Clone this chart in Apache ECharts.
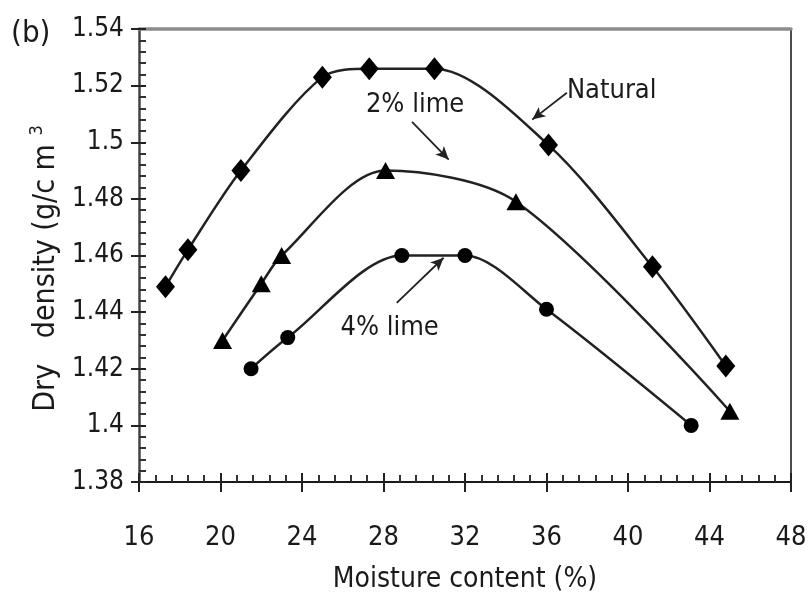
<!DOCTYPE html>
<html>
<head>
<meta charset="utf-8">
<script src="https://cdn.jsdelivr.net/npm/echarts@6/dist/echarts.min.js"></script>
<style>
  html, body { margin: 0; padding: 0; background: #fff; }
  #chart { width: 812px; height: 601px; }
</style>
</head>
<body>
<div id="chart"></div>
<script>
// Compaction curves: dry density vs. moisture content
const xTicks = ['16', '20', '24', '28', '32', '36', '40', '44', '48'];
const yTicks = ['1.38', '1.4', '1.42', '1.44', '1.46', '1.48', '1.5', '1.52', '1.54'];

const moistureNatural = [17.3, 18.4, 21.0, 25.0, 27.3, 30.5, 36.1, 41.2, 44.8];
const densityNatural  = [1.449, 1.462, 1.490, 1.523, 1.526, 1.526, 1.499, 1.456, 1.421];

const moistureLime2 = [20.1, 22.0, 23.0, 28.1, 34.5, 45.0];
const densityLime2  = [1.430, 1.450, 1.460, 1.490, 1.479, 1.405];

const moistureLime4 = [21.5, 23.3, 28.9, 32.0, 36.0, 43.1];
const densityLime4  = [1.420, 1.431, 1.460, 1.460, 1.441, 1.400];

// Callout labels: text anchor and arrow (start -> tip), in data units
const calloutNames = ['Natural', '2% lime', '4% lime'];
const calloutText  = [[39.2, 1.518], [29.55, 1.513], [28.3, 1.4345]];
const calloutFrom  = [[37.0, 1.5175], [29.4, 1.5072], [28.65, 1.4433]];
const calloutTo    = [[35.3, 1.508], [31.2, 1.4939], [30.95, 1.4592]];

const NARROW = '"Liberation Sans Narrow", "DejaVu Sans Condensed", sans-serif';
const INK = '#1a1a1a';

const pairs = (xs, ys) => xs.map((x, i) => [x, ys[i]]);

function curve(name, xs, ys, symbol, size, idx) {
  return {
    name: name,
    type: 'line',
    smooth: 0.3,
    data: pairs(xs, ys),
    symbol: symbol,
    symbolSize: size,
    showSymbol: true,
    itemStyle: { color: '#000' },
    lineStyle: { color: '#222', width: 2.5 },
    z: 3,
    markLine: {
      silent: true,
      symbol: ['none', 'arrow'],
      symbolSize: [9, 13],
      label: { show: false },
      lineStyle: { color: '#222', width: 1.8, type: 'solid' },
      data: [[{ coord: calloutFrom[idx] }, { coord: calloutTo[idx] }]]
    },
    markPoint: {
      silent: true,
      symbol: 'rect',
      symbolSize: 1,
      itemStyle: { color: 'rgba(0,0,0,0)' },
      label: {
        show: true, position: 'inside', color: INK,
        fontFamily: NARROW, fontSize: 27,
        formatter: () => calloutNames[idx]
      },
      data: [{ coord: calloutText[idx] }]
    }
  };
}

const tickFmtX = v => xTicks.find(t => Math.abs(+t - v) < 1e-6) || '';
const tickFmtY = v => yTicks.find(t => Math.abs(+t - v) < 1e-6) || '';

const chart = echarts.init(document.getElementById('chart'));
chart.setOption({
  animation: false,
  backgroundColor: '#fff',
  grid: { left: 139, right: 21, top: 29, bottom: 119 },
  graphic: [{
    type: 'text', left: 11, top: 18,
    style: { text: '(b)', font: '31px ' + NARROW, fill: INK }
  }],
  xAxis: [{
    type: 'value', position: 'bottom', min: 16, max: 48, interval: 4,
    axisLine: { lineStyle: { color: '#1a1a1a', width: 2 } },
    axisTick: { inside: true, length: 9, lineStyle: { color: '#222', width: 2 } },
    minorTick: { show: true, splitNumber: 5, length: 7, lineStyle: { color: '#333', width: 2 } },
    splitLine: { show: false },
    axisLabel: { margin: 42, fontSize: 27, fontFamily: NARROW, color: INK, formatter: tickFmtX },
    name: 'Moisture content (%)', nameLocation: 'middle', nameGap: 84,
    nameTextStyle: { fontSize: 28, fontFamily: NARROW, color: INK }
  }, {
    type: 'value', position: 'bottom', min: 16, max: 48, interval: 4,
    axisLine: { show: false },
    axisTick: { inside: false, length: 10, lineStyle: { color: '#222', width: 2 } },
    axisLabel: { show: false }, splitLine: { show: false }
  }, {
    type: 'value', position: 'top', min: 16, max: 48, interval: 4,
    axisLine: { lineStyle: { color: '#8c8c8c', width: 3.5 } },
    axisTick: { show: false }, axisLabel: { show: false }, splitLine: { show: false }
  }],
  yAxis: [{
    type: 'value', position: 'left', min: 1.38, max: 1.54, interval: 0.02,
    axisLine: { lineStyle: { color: '#444', width: 2.5 } },
    axisTick: { inside: true, length: 7, lineStyle: { color: '#222', width: 2 } },
    minorTick: { show: true, splitNumber: 5, length: 7, lineStyle: { color: '#333', width: 2 } },
    splitLine: { show: false },
    axisLabel: { margin: 15, fontSize: 26, fontFamily: NARROW, color: INK, formatter: tickFmtY },
    name: '{a|Dry   density (g/c m }{s|3}', nameLocation: 'middle', nameGap: 73,
    nameTextStyle: {
      color: INK,
      padding: [0, 26, 0, 0],
      rich: {
        a: { fontSize: 30, fontFamily: NARROW, color: INK, lineHeight: 36 },
        s: { fontSize: 18, fontFamily: NARROW, color: INK, verticalAlign: 'top', lineHeight: 36 }
      }
    }
  }, {
    type: 'value', position: 'left', min: 1.38, max: 1.54, interval: 0.02,
    axisLine: { show: false },
    axisTick: { inside: false, length: 8, lineStyle: { color: '#222', width: 2 } },
    axisLabel: { show: false }, splitLine: { show: false }
  }, {
    type: 'value', position: 'right', min: 1.38, max: 1.54, interval: 0.02,
    axisLine: { lineStyle: { color: '#111', width: 1.5 } },
    axisTick: { show: false }, axisLabel: { show: false }, splitLine: { show: false }
  }],
  series: [
    curve('Natural', moistureNatural, densityNatural, 'diamond', [19, 23], 0),
    curve('2% lime', moistureLime2, densityLime2, 'triangle', [19, 17], 1),
    curve('4% lime', moistureLime4, densityLime4, 'circle', 15, 2)
  ]
});
</script>
</body>
</html>
